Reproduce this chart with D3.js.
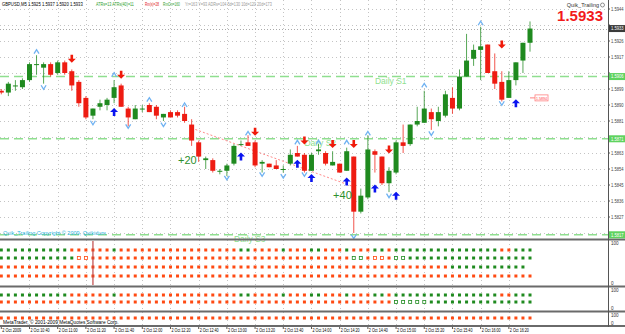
<!DOCTYPE html>
<html>
<head>
<meta charset="utf-8">
<script src="https://cdn.jsdelivr.net/npm/d3@7"></script>
<style>
    body { margin: 0; background: #fff; }
    svg { display: block; }
    text { font-family: "Liberation Sans", Arial, sans-serif; }
</style>
</head>
<body>
<div id="chart"></div>
<script>
// GBPUSD M5, bar 0 = 2 Oct 10:20
const opens  = [1.5898,1.5897,1.5901,1.5900,1.5904,1.5913,1.5911,1.5913,1.5908,1.5914,
                1.5909,1.5903,1.5894,1.5884,1.5889,1.5890,1.5894,1.5901,1.5888,1.5882,
                1.5888,1.5890,1.5889,1.5883,1.5886,1.5886,1.5885,1.5879,1.5869,1.5859,
                1.5859,1.5853,1.5853,1.5857,1.5868,1.5869,1.5869,1.5857,1.5857,1.5856,
                1.5854,1.5857,1.5863,1.5862,1.5853,1.5864,1.5863,1.5856,1.5857,1.5853,
                1.5861,1.5830,1.5838,1.5864,1.5861,1.5846,1.5852,1.5869,1.5868,1.5879,
                1.5880,1.5886,1.5881,1.5884,1.5894,1.5888,1.5906,1.5916,1.5921,1.5924,
                1.5909,1.5903,1.5894,1.5904,1.5915,1.5925];
const highs  = [1.5899,1.5903,1.5904,1.5905,1.5914,1.5918,1.5914,1.5914,1.5915,1.5915,
                1.5910,1.5904,1.5895,1.5888,1.5893,1.5894,1.5904,1.5902,1.5889,1.5890,
                1.5890,1.5891,1.5890,1.5885,1.5887,1.5887,1.5889,1.5882,1.5870,1.5861,
                1.5860,1.5854,1.5857,1.5868,1.5870,1.5873,1.5870,1.5859,1.5857,1.5859,
                1.5856,1.5865,1.5867,1.5863,1.5863,1.5868,1.5864,1.5864,1.5857,1.5866,
                1.5861,1.5843,1.5873,1.5865,1.5861,1.5855,1.5870,1.5879,1.5879,1.5889,
                1.5898,1.5888,1.5889,1.5898,1.5900,1.5910,1.5930,1.5924,1.5934,1.5924,
                1.5919,1.5909,1.5909,1.5914,1.5925,1.5937];
const lows   = [1.5896,1.5895,1.5898,1.5899,1.5903,1.5907,1.5902,1.5906,1.5907,1.5907,
                1.5898,1.5889,1.5882,1.5882,1.5887,1.5887,1.5891,1.5889,1.5878,1.5882,
                1.5886,1.5886,1.5882,1.5881,1.5883,1.5883,1.5880,1.5867,1.5858,1.5854,
                1.5852,1.5851,1.5850,1.5856,1.5867,1.5867,1.5855,1.5852,1.5855,1.5854,
                1.5852,1.5856,1.5861,1.5852,1.5853,1.5862,1.5856,1.5856,1.5852,1.5853,
                1.5818,1.5829,1.5837,1.5852,1.5845,1.5841,1.5851,1.5863,1.5867,1.5878,
                1.5880,1.5876,1.5878,1.5883,1.5885,1.5887,1.5906,1.5912,1.5904,1.5908,
                1.5899,1.5892,1.5894,1.5901,1.5908,1.5920];
const closes = [1.5897,1.5902,1.5901,1.5904,1.5913,1.5913,1.5913,1.5907,1.5914,1.5908,
                1.5901,1.5891,1.5883,1.5888,1.5891,1.5893,1.5900,1.5889,1.5883,1.5888,
                1.5888,1.5886,1.5884,1.5885,1.5883,1.5884,1.5881,1.5870,1.5861,1.5860,
                1.5853,1.5853,1.5856,1.5867,1.5868,1.5867,1.5856,1.5858,1.5855,1.5854,
                1.5854,1.5862,1.5861,1.5853,1.5862,1.5865,1.5857,1.5858,1.5852,1.5864,
                1.5830,1.5839,1.5865,1.5862,1.5846,1.5853,1.5869,1.5867,1.5879,1.5881,
                1.5888,1.5882,1.5886,1.5896,1.5888,1.5906,1.5915,1.5921,1.5923,1.5908,
                1.5902,1.5893,1.5904,1.5914,1.5925,1.5933];

const timeLabels = ['2 Oct 2009','2 Oct 10:40','2 Oct 11:00','2 Oct 11:20','2 Oct 11:40',
                    '2 Oct 12:00','2 Oct 12:20','2 Oct 12:40','2 Oct 13:00','2 Oct 13:20',
                    '2 Oct 13:40','2 Oct 14:00','2 Oct 14:20','2 Oct 14:40','2 Oct 15:00',
                    '2 Oct 15:20','2 Oct 15:40','2 Oct 16:00','2 Oct 16:20'];
const timeLabelBars = [0,4,8,12,16,20,24,28,32,36,40,44,48,52,56,60,64,68,72];
const priceTicks = [1.5944,1.5935,1.5926,1.5917,1.5908,1.5899,1.5890,1.5881,
                    1.5872,1.5863,1.5854,1.5845,1.5836,1.5827,1.5818];

// Daily support levels
const dailyNames  = ['Daily S1','Daily S2','Daily S3'];
const dailyPrices = [1.5906, 1.5871, 1.5817];
const dailyLabelBars = [53, 43, 33];

// Signal arrows and fractals: [bar, price]
const buyArrows  = [[16,1.5886],[34,1.5861],[42,1.5857],[44,1.5849],[49,1.5847],[53,1.5843],[56,1.5839],[73,1.5891]];
const sellArrows = [[10,1.5916],[17,1.5907],[36,1.5875],[43,1.5870],[47,1.5868],[50,1.5868],[55,1.5865],[71,1.5924]];
const fractalsUp   = [[5,1.5920],[16,1.5907],[21,1.5893],[26,1.5890],[35,1.5874],[42,1.5869],[45,1.5869],[49,1.5869],[52,1.5874],[60,1.5901],[68,1.5936]];
const fractalsDown = [[6,1.5900],[13,1.5880],[18,1.5878],[23,1.5879],[32,1.5849],[37,1.5851],[40,1.5850],[43,1.5851],[50,1.5816],[55,1.5839],[61,1.5874],[71,1.5891]];

// Trade line and results
const tradeLine = [[27,1.5877],[50,1.5844]];
const profitLabels = [[28,1.5857,'+20'],[50,1.5837,'+40']];
const stopLevel = [75, 1.5894];

// Header indicator readouts: text, colour, left, width
const headerParts = [
    ['ATRs=13 ATRs(40)=11', '#2e9e2e', 96, 38],
    ['Rm(s)=28', '#e02020', 145, 14],
    ['RmOn=160', '#2e9e2e', 163, 17],
    ['Yr=163  Y=93  ADRs=104  5d=130  10d=120  20d=173', '#999', 185, 87]
];

// Indicator dot rows: g = green, o = orange, G/O = hollow
const pane1Rows = [
    'gggggggggg oooooo g ooooooooooooooooo gg oooo g ooo gg ooo g ooo gg o ggggggggggggggg oo ggg',
    'ggggggggggg OO ooooooooooooooooooooooooooooooooooooo GG o OO o GG gggggggggggggggggg',
    'oooooooooooooooooooooooooooooooooooooooooooooooooooooooooooooooo ggggggggggg',
    'oooooooooooooooooooooooooooooooooooooooooooooooooooooooooooooooooooooooooooo'
];
const pane2Rows = [
    'gggggggggg oooooo g ooooooooooooooooo gg oooo g ooo gg ooo g ooo gg o ggggggggggggggg oo ggg',
    'oooooooooooooooooooooooooooooooooooooooooooooooooooooooo GGGGG ggggggggggggggg'
];
const pane3Rows = [
    'oooooooooooooooooooooooooooooooooooooooooooooooooooooooooooooooooooooooooooo'
];
const pane1MarkerBar = 13;

// Configuration
const config = {
    width: 625,
    height: 334,
    plotRight: 608,
    bull: '#1f8a1f',
    bear: '#ee1c12',
    grid: '#c4c4c4',
    daily: '#8fdf8f',
    dotGreen: '#1f8a1f',
    dotOrange: '#ff4a12',
    candleWidth: 5,
    axisFont: 4.6
};

const panes = [
    { top: 241, bottom: 285, rowY: [250, 258, 267, 276], rows: pane1Rows },
    { top: 288, bottom: 310, rowY: [295, 302], rows: pane2Rows },
    { top: 313, bottom: 325, rowY: [318], rows: pane3Rows }
];

const n = closes.length;
const x = d3.scaleLinear().domain([0, n - 1]).range([1.3, 530]);
const y = d3.scaleLinear().domain([1.5818, 1.5944]).range([233, 9]);

const svg = d3.select('#chart')
    .append('svg')
    .attr('width', config.width)
    .attr('height', config.height);

svg.append('rect')
    .attr('width', config.width)
    .attr('height', config.height)
    .attr('fill', '#fff');

// Squeeze a text horizontally into a given width
function fitText(x0, y0, width, size, color, str) {
    const g = svg.append('g');
    const t = g.append('text')
        .attr('font-size', size)
        .attr('fill', color)
        .text(str);
    const natural = t.node().getComputedTextLength();
    g.attr('transform', `translate(${x0},${y0}) scale(${Math.min(1, width / natural)},1)`);
    return t;
}

// Grid
svg.append('g')
    .selectAll('line')
    .data(priceTicks)
    .join('line')
    .attr('x1', 0)
    .attr('x2', config.plotRight)
    .attr('y1', d => Math.round(y(d)) + 0.5)
    .attr('y2', d => Math.round(y(d)) + 0.5)
    .attr('stroke', config.grid)
    .attr('stroke-dasharray', '1,3');

svg.append('g')
    .selectAll('line')
    .data(timeLabelBars.slice(1))
    .join('line')
    .attr('x1', d => Math.round(x(d)) + 0.5)
    .attr('x2', d => Math.round(x(d)) + 0.5)
    .attr('y1', 0)
    .attr('y2', 326)
    .attr('stroke', config.grid)
    .attr('stroke-dasharray', '1,3');

// Bid line
svg.append('line')
    .attr('x1', 0).attr('x2', config.plotRight)
    .attr('y1', Math.round(y(closes[n - 1])) + 0.5)
    .attr('y2', Math.round(y(closes[n - 1])) + 0.5)
    .attr('stroke', '#aaa')
    .attr('stroke-dasharray', '1,2');

// Daily levels
dailyPrices.forEach((p, i) => {
    svg.append('line')
        .attr('x1', 0).attr('x2', config.plotRight)
        .attr('y1', y(p)).attr('y2', y(p))
        .attr('stroke', config.daily)
        .attr('stroke-width', 1.5)
        .attr('stroke-dasharray', '9,5');
    svg.append('text')
        .attr('x', x(dailyLabelBars[i]))
        .attr('y', y(p) + 7)
        .attr('font-size', 8.5)
        .attr('fill', config.daily)
        .text(dailyNames[i]);
});

// Trade line
svg.append('line')
    .attr('x1', x(tradeLine[0][0])).attr('y1', y(tradeLine[0][1]))
    .attr('x2', x(tradeLine[1][0])).attr('y2', y(tradeLine[1][1]))
    .attr('stroke', '#ff8a8a')
    .attr('stroke-dasharray', '2,2');
svg.append('circle')
    .attr('cx', x(tradeLine[1][0])).attr('cy', y(tradeLine[1][1]))
    .attr('r', 1.5)
    .attr('fill', '#f7b08a');

// Candles
const bars = d3.range(n).map(i => ({ i, o: opens[i], h: highs[i], l: lows[i], c: closes[i] }));
const candle = svg.append('g').selectAll('g').data(bars).join('g');
candle.append('line')
    .attr('x1', d => x(d.i)).attr('x2', d => x(d.i))
    .attr('y1', d => y(d.h)).attr('y2', d => y(d.l))
    .attr('stroke', d => d.c >= d.o ? config.bull : config.bear)
    .attr('stroke-opacity', 0.75);
candle.append('rect')
    .attr('x', d => x(d.i) - config.candleWidth / 2)
    .attr('width', config.candleWidth)
    .attr('y', d => y(Math.max(d.o, d.c)))
    .attr('height', d => Math.max(1, Math.abs(y(d.o) - y(d.c))))
    .attr('fill', d => d.c >= d.o ? config.bull : config.bear);

// Fractals
svg.append('g')
    .selectAll('path')
    .data(fractalsUp)
    .join('path')
    .attr('d', d => `M${x(d[0]) - 2.5},${y(d[1]) + 2} L${x(d[0])},${y(d[1]) - 2} L${x(d[0]) + 2.5},${y(d[1]) + 2}`)
    .attr('fill', 'none')
    .attr('stroke', '#6fb2f2')
    .attr('stroke-width', 1.3);
svg.append('g')
    .selectAll('path')
    .data(fractalsDown)
    .join('path')
    .attr('d', d => `M${x(d[0]) - 2.5},${y(d[1]) - 2} L${x(d[0])},${y(d[1]) + 2} L${x(d[0]) + 2.5},${y(d[1]) - 2}`)
    .attr('fill', 'none')
    .attr('stroke', '#6fb2f2')
    .attr('stroke-width', 1.3);

// Buy / sell arrows
function arrowPath(cx, cy, dir) {
    // dir = -1 up, +1 down
    const h = 4 * dir;
    return `M${cx - 4},${cy} L${cx},${cy - h} L${cx + 4},${cy} L${cx + 1.3},${cy} L${cx + 1.3},${cy + h} ` +
           `L${cx - 1.3},${cy + h} L${cx - 1.3},${cy} Z`;
}
svg.append('g')
    .selectAll('path')
    .data(buyArrows)
    .join('path')
    .attr('d', d => arrowPath(x(d[0]), y(d[1]), 1))
    .attr('fill', '#0a14f0');
svg.append('g')
    .selectAll('path')
    .data(sellArrows)
    .join('path')
    .attr('d', d => arrowPath(x(d[0]), y(d[1]), -1))
    .attr('fill', '#f01a0a');

// Profit labels
svg.append('g')
    .selectAll('text')
    .data(profitLabels)
    .join('text')
    .attr('x', d => x(d[0]) - 2)
    .attr('y', d => y(d[1]))
    .attr('text-anchor', 'end')
    .attr('font-size', 11)
    .attr('fill', '#2d8f2d')
    .text(d => d[2]);

// Stop level tag
svg.append('line')
    .attr('x1', x(stopLevel[0])).attr('x2', x(stopLevel[0]) + 5)
    .attr('y1', y(stopLevel[1])).attr('y2', y(stopLevel[1]))
    .attr('stroke', '#ff8080');
svg.append('rect')
    .attr('x', x(stopLevel[0]) + 5).attr('y', y(stopLevel[1]) - 3)
    .attr('width', 13).attr('height', 6)
    .attr('fill', '#fff').attr('stroke', '#ff8080').attr('stroke-width', 0.8);
fitText(x(stopLevel[0]) + 6, y(stopLevel[1]) + 1.8, 11, 4.2, '#ff4040', stopLevel[1].toFixed(4));

// Header texts
fitText(2, 6, 81, 5, '#000',
    `GBPUSD,M5  ${opens[n - 1].toFixed(4)} ${highs[n - 1].toFixed(4)} ${lows[n - 1].toFixed(4)} ${closes[n - 1].toFixed(4)}`);
headerParts.forEach(([str, color, x0, w]) => fitText(x0, 6, w, 5, color, str));

svg.append('text')
    .attr('x', 599).attr('y', 7)
    .attr('text-anchor', 'end')
    .attr('font-size', 5.5)
    .attr('fill', '#333')
    .text('Quik_Trailing');
svg.append('circle')
    .attr('cx', 602.5).attr('cy', 5).attr('r', 2)
    .attr('fill', 'none').attr('stroke', '#666').attr('stroke-width', 0.7);

svg.append('text')
    .attr('x', 603).attr('y', 21)
    .attr('text-anchor', 'end')
    .attr('font-size', 15)
    .attr('font-weight', 'bold')
    .attr('fill', '#f21a1a')
    .text(closes[n - 1].toFixed(4));

fitText(3, 235, 107, 5.5, '#2ab4e0', 'Quik_Trailing    Copyright © 2009, Quikidum');

// Indicator panes
panes.forEach(pane => {
    pane.rows.forEach((row, ri) => {
        const codes = row.replace(/ /g, '').split('');
        svg.append('g')
            .selectAll('rect')
            .data(codes)
            .join('rect')
            .attr('x', (d, i) => x(i) - 1.5)
            .attr('y', pane.rowY[ri] - 1.5)
            .attr('width', 3)
            .attr('height', 3)
            .attr('fill', d => d === 'g' ? config.dotGreen : d === 'o' ? config.dotOrange : '#fff')
            .attr('stroke', d => d === 'G' ? config.dotGreen : d === 'O' ? config.dotOrange : 'none')
            .attr('stroke-width', 0.8);
    });
    svg.append('text')
        .attr('x', 611).attr('y', pane.top + 4)
        .attr('font-size', config.axisFont).attr('fill', '#333').text('100');
    svg.append('text')
        .attr('x', 611).attr('y', pane.bottom)
        .attr('font-size', config.axisFont).attr('fill', '#333').text('0');
});

svg.append('line')
    .attr('x1', x(pane1MarkerBar)).attr('x2', x(pane1MarkerBar))
    .attr('y1', panes[0].top).attr('y2', panes[0].bottom)
    .attr('stroke', '#c04848')
    .attr('stroke-width', 1.2);

// Pane separators
[239.5, 286.5, 311.5, 326].forEach(sy => {
    svg.append('rect')
        .attr('x', 0).attr('y', sy - 1)
        .attr('width', config.width).attr('height', 2)
        .attr('fill', '#6a6a6a');
});

svg.append('text')
    .attr('x', 3).attr('y', 324)
    .attr('font-size', 4.8)
    .attr('fill', '#000')
    .text('MetaTrader, © 2001-2009 MetaQuotes Software Corp.');

// Price axis
svg.append('line')
    .attr('x1', config.plotRight + 0.5).attr('x2', config.plotRight + 0.5)
    .attr('y1', 0).attr('y2', 327)
    .attr('stroke', '#555');

const boxPrices = dailyPrices.concat([closes[n - 1]]);
const freeTicks = priceTicks.filter(p => boxPrices.every(b => Math.abs(y(b) - y(p)) > 6));

freeTicks.forEach(p => fitText(611, y(p) + 1.8, 12.5, config.axisFont, '#444', p.toFixed(4)));

svg.append('g')
    .selectAll('line')
    .data(priceTicks)
    .join('line')
    .attr('x1', config.plotRight).attr('x2', config.plotRight + 2)
    .attr('y1', d => y(d)).attr('y2', d => y(d))
    .attr('stroke', '#555');

function priceBox(p, bg, fg) {
    svg.append('rect')
        .attr('x', config.plotRight + 1).attr('y', y(p) - 3.5)
        .attr('width', 16).attr('height', 7)
        .attr('fill', bg);
    fitText(611, y(p) + 1.8, 12.5, config.axisFont, fg, p.toFixed(4));
}
dailyPrices.forEach(p => priceBox(p, '#5fd35f', '#fff'));
priceBox(closes[n - 1], '#3a3a3a', '#fff');

// Time axis
timeLabels.forEach((label, i) => fitText(x(timeLabelBars[i]) + 1, 331.5, 19, 4.6, '#000', label));
svg.append('g')
    .selectAll('line')
    .data(timeLabelBars)
    .join('line')
    .attr('x1', d => x(d)).attr('x2', d => x(d))
    .attr('y1', 327).attr('y2', 329)
    .attr('stroke', '#555');
</script>
</body>
</html>
